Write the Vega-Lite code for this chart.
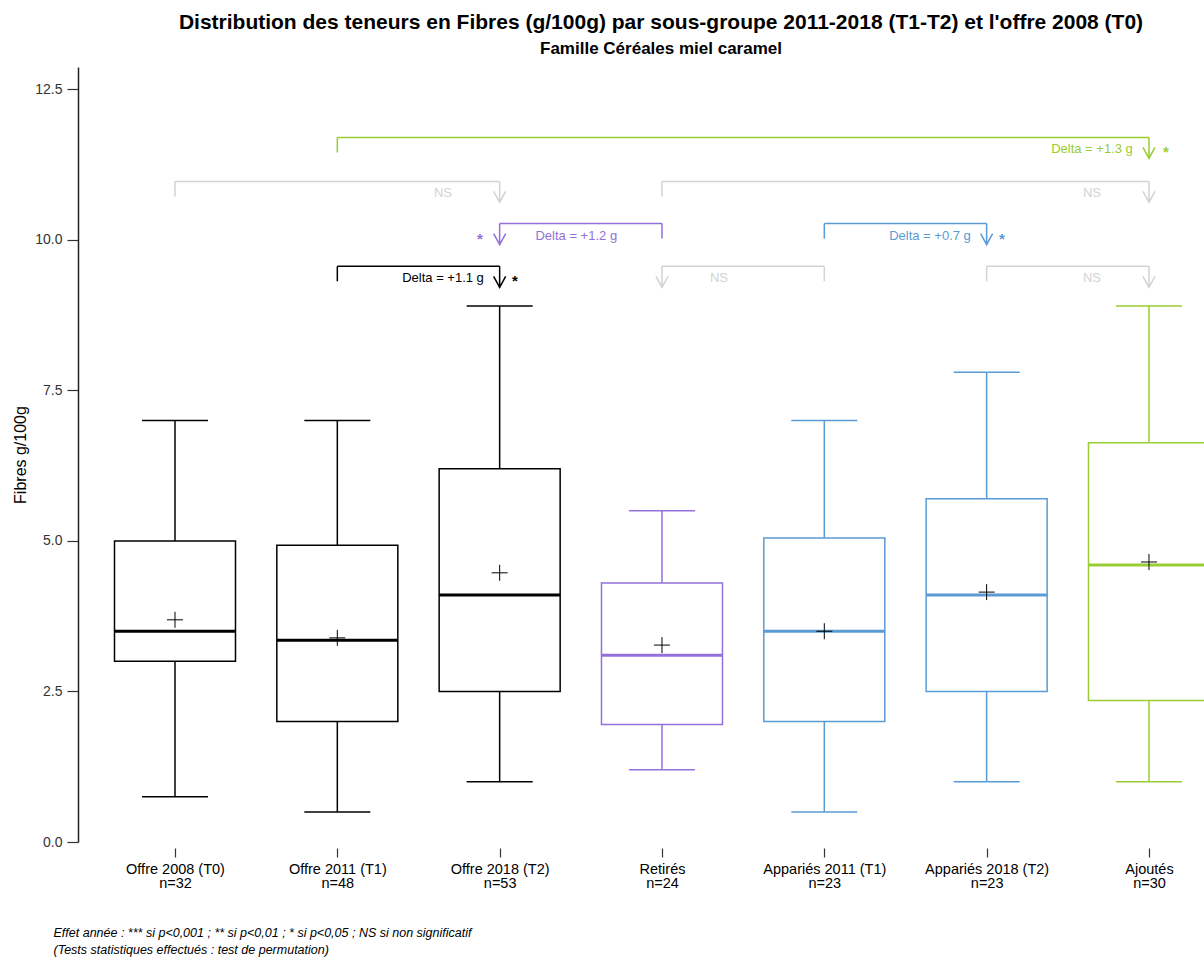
{
  "$schema": "https://vega.github.io/schema/vega-lite/v6.json",
  "autosize": "none",
  "width": 1126,
  "height": 775,
  "padding": {"left": 78, "top": 67, "right": 0, "bottom": 115},
  "background": "white",
  "title": {
    "text": "Distribution des teneurs en Fibres (g/100g) par sous-groupe 2011-2018 (T1-T2) et l'offre 2008 (T0)",
    "subtitle": "Famille Céréales miel caramel",
    "font": "Liberation Sans",
    "fontSize": 21,
    "fontWeight": "bold",
    "color": "#000000",
    "subtitleFont": "Liberation Sans",
    "subtitleFontSize": 17,
    "subtitleFontWeight": "bold",
    "subtitleColor": "#000000",
    "subtitlePadding": 8,
    "anchor": "middle",
    "frame": "group",
    "dx": 20,
    "offset": 10
  },
  "config": {
    "view": {"stroke": null},
    "font": "Liberation Sans",
    "axis": {"grid": false}
  },
  "datasets": {
    "boxes": [
      {"pos": 1, "grp": "Offre 2008 (T0)", "lo": 0.75, "q1": 3.0, "med": 3.5, "q3": 5.0, "hi": 7.0, "moy": 3.69},
      {"pos": 2, "grp": "Offre 2011 (T1)", "lo": 0.5, "q1": 2.0, "med": 3.35, "q3": 4.93, "hi": 7.0, "moy": 3.39},
      {"pos": 3, "grp": "Offre 2018 (T2)", "lo": 1.0, "q1": 2.5, "med": 4.1, "q3": 6.2, "hi": 8.9, "moy": 4.47},
      {"pos": 4, "grp": "Retirés", "lo": 1.2, "q1": 1.95, "med": 3.1, "q3": 4.3, "hi": 5.5, "moy": 3.27},
      {"pos": 5, "grp": "Appariés 2011 (T1)", "lo": 0.5, "q1": 2.0, "med": 3.5, "q3": 5.05, "hi": 7.0, "moy": 3.5},
      {"pos": 6, "grp": "Appariés 2018 (T2)", "lo": 1.0, "q1": 2.5, "med": 4.1, "q3": 5.7, "hi": 7.8, "moy": 4.15},
      {"pos": 7, "grp": "Ajoutés", "lo": 1.0, "q1": 2.35, "med": 4.6, "q3": 6.63, "hi": 8.9, "moy": 4.65}
    ],
    "brackets": [
      {"grp": "Ajoutés", "yb": 11.7, "xt": 2, "xa": 7, "lx": 6.649, "label": "Delta = +1.3 g", "sx": 7.105, "star": "*"},
      {"grp": "NS", "yb": 10.97, "xt": 1, "xa": 3, "lx": 2.651, "label": "NS", "sx": null, "star": ""},
      {"grp": "NS", "yb": 10.97, "xt": 4, "xa": 7, "lx": 6.649, "label": "NS", "sx": null, "star": ""},
      {"grp": "Retirés", "yb": 10.27, "xt": 4, "xa": 3, "lx": 3.472, "label": "Delta = +1.2 g", "sx": 2.879, "star": "*"},
      {"grp": "Appariés 2011 (T1)", "yb": 10.27, "xt": 5, "xa": 6, "lx": 5.651, "label": "Delta = +0.7 g", "sx": 6.094, "star": "*"},
      {"grp": "Offre 2011 (T1)", "yb": 9.56, "xt": 2, "xa": 3, "lx": 2.651, "label": "Delta = +1.1 g", "sx": 3.094, "star": "*"},
      {"grp": "NS", "yb": 9.56, "xt": 5, "xa": 4, "lx": 4.351, "label": "NS", "sx": null, "star": ""},
      {"grp": "NS", "yb": 9.56, "xt": 6, "xa": 7, "lx": 6.649, "label": "NS", "sx": null, "star": ""}
    ]
  },
  "encoding": {
    "x": {
      "type": "quantitative",
      "scale": {"domain": [0.4025, 7.339], "nice": false, "zero": false, "padding": 0},
      "axis": {
        "values": [1, 2, 3, 4, 5, 6, 7],
        "domain": false,
        "ticks": true,
        "tickSize": 9,
        "tickColor": "#333333",
        "tickWidth": 1.2,
        "offset": 6,
        "labelFont": "Liberation Sans",
        "labelFontSize": 14.5,
        "labelColor": "#000000",
        "labelPadding": 5,
        "labelLineHeight": 14.5,
        "labelFlush": false,
        "labelOverlap": false,
        "labelExpr": "datum.value == 1 ? ['Offre 2008 (T0)', 'n=32'] : datum.value == 2 ? ['Offre 2011 (T1)', 'n=48'] : datum.value == 3 ? ['Offre 2018 (T2)', 'n=53'] : datum.value == 4 ? ['Retirés', 'n=24'] : datum.value == 5 ? ['Appariés 2011 (T1)', 'n=23'] : datum.value == 6 ? ['Appariés 2018 (T2)', 'n=23'] : ['Ajoutés', 'n=30']",
        "title": ["Effet année : *** si p<0,001 ; ** si p<0,01 ; * si p<0,05 ; NS si non significatif", "(Tests statistiques effectués : test de permutation)"],
        "titleFont": "Liberation Sans",
        "titleFontSize": 12.5,
        "titleFontStyle": "italic",
        "titleFontWeight": "normal",
        "titleColor": "#000000",
        "titleAnchor": "start",
        "titleAlign": "left",
        "titleBaseline": "top",
        "titleX": -25,
        "titleY": 78,
        "titleLineHeight": 17
      }
    },
    "y": {
      "type": "quantitative",
      "scale": {"domain": [0, 12.87], "nice": false, "zero": false, "padding": 0},
      "axis": {
        "values": [0, 2.5, 5, 7.5, 10, 12.5],
        "format": ".1f",
        "domain": true,
        "domainColor": "#222222",
        "domainWidth": 1.5,
        "ticks": true,
        "tickSize": 11,
        "tickColor": "#333333",
        "tickWidth": 1.2,
        "labelFont": "Liberation Sans",
        "labelFontSize": 14,
        "labelColor": "#333333",
        "labelPadding": 5,
        "title": "Fibres g/100g",
        "titleFont": "Liberation Sans",
        "titleFontSize": 16,
        "titleFontWeight": "normal",
        "titleColor": "#000000",
        "titlePadding": 6
      }
    }
  },
  "layer": [
    {
      "data": {"name": "boxes"},
      "mark": {"type": "rule", "strokeWidth": 1.5},
      "encoding": {
        "x": {"field": "pos"},
        "y": {"field": "lo"},
        "y2": {"field": "hi"},
        "color": {"field": "grp", "type": "nominal", "legend": null,
          "scale": {"domain": ["Offre 2008 (T0)", "Offre 2011 (T1)", "Offre 2018 (T2)", "Retirés", "Appariés 2011 (T1)", "Appariés 2018 (T2)", "Ajoutés", "NS"],
                    "range": ["#000000", "#000000", "#000000", "#9370DB", "#5B9BD5", "#5B9BD5", "#9ACD32", "#D3D3D3"]}}
      }
    },
    {
      "data": {"name": "boxes"},
      "mark": {"type": "tick", "orient": "horizontal", "size": 66, "thickness": 1.5, "opacity": 1},
      "encoding": {"x": {"field": "pos"}, "y": {"field": "lo"}, "color": {"field": "grp", "type": "nominal"}}
    },
    {
      "data": {"name": "boxes"},
      "mark": {"type": "tick", "orient": "horizontal", "size": 66, "thickness": 1.5, "opacity": 1},
      "encoding": {"x": {"field": "pos"}, "y": {"field": "hi"}, "color": {"field": "grp", "type": "nominal"}}
    },
    {
      "data": {"name": "boxes"},
      "mark": {"type": "bar", "width": 121, "fill": "white", "strokeWidth": 1.5, "clip": true},
      "encoding": {
        "x": {"field": "pos"},
        "y": {"field": "q1"},
        "y2": {"field": "q3"},
        "stroke": {"field": "grp", "type": "nominal", "legend": null,
          "scale": {"domain": ["Offre 2008 (T0)", "Offre 2011 (T1)", "Offre 2018 (T2)", "Retirés", "Appariés 2011 (T1)", "Appariés 2018 (T2)", "Ajoutés", "NS"],
                    "range": ["#000000", "#000000", "#000000", "#9370DB", "#5B9BD5", "#5B9BD5", "#9ACD32", "#D3D3D3"]}}
      }
    },
    {
      "data": {"name": "boxes"},
      "mark": {"type": "tick", "orient": "horizontal", "size": 121, "thickness": 3, "opacity": 1, "clip": true},
      "encoding": {"x": {"field": "pos"}, "y": {"field": "med"}, "color": {"field": "grp", "type": "nominal"}}
    },
    {
      "data": {"name": "boxes"},
      "mark": {"type": "point", "shape": "M-8,0L8,0M0,-8L0,8", "size": 4, "filled": false, "strokeWidth": 1, "opacity": 1, "color": "#000000"},
      "encoding": {"x": {"field": "pos"}, "y": {"field": "moy"}}
    },
    {
      "data": {"name": "brackets"},
      "mark": {"type": "rule", "strokeWidth": 1.5},
      "encoding": {
        "x": {"field": "xt"},
        "x2": {"field": "xa"},
        "y": {"field": "yb"},
        "color": {"field": "grp", "type": "nominal"}
      }
    },
    {
      "data": {"name": "brackets"},
      "mark": {"type": "point", "shape": "M0,0L0,15", "size": 4, "filled": false, "strokeWidth": 1.5, "opacity": 1},
      "encoding": {
        "x": {"field": "xt"},
        "y": {"field": "yb"},
        "color": {"field": "grp", "type": "nominal"}
      }
    },
    {
      "data": {"name": "brackets"},
      "mark": {"type": "point", "shape": "M0,0L0,21M-6,10L0,21L6,10", "size": 4, "filled": false, "strokeWidth": 1.5, "opacity": 1},
      "encoding": {
        "x": {"field": "xa"},
        "y": {"field": "yb"},
        "color": {"field": "grp", "type": "nominal"}
      }
    },
    {
      "data": {"name": "brackets"},
      "mark": {"type": "text", "fontSize": 13, "dy": 12, "baseline": "middle", "align": "center", "font": "Liberation Sans"},
      "encoding": {
        "x": {"field": "lx"},
        "y": {"field": "yb"},
        "text": {"field": "label"},
        "color": {"field": "grp", "type": "nominal"}
      }
    },
    {
      "data": {"name": "brackets"},
      "transform": [{"filter": "datum.star != ''"}],
      "mark": {"type": "text", "fontSize": 15, "fontWeight": "bold", "dy": 15, "baseline": "middle", "align": "center", "font": "Liberation Sans"},
      "encoding": {
        "x": {"field": "sx"},
        "y": {"field": "yb"},
        "text": {"field": "star"},
        "color": {"field": "grp", "type": "nominal"}
      }
    }
  ],
  "resolve": {"scale": {"color": "shared"}}
}
